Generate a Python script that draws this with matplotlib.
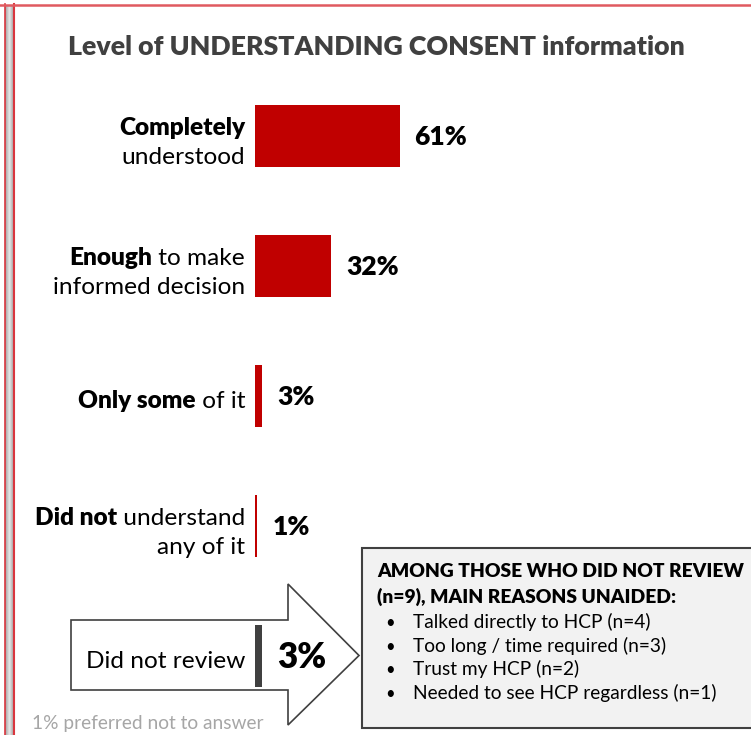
import matplotlib
matplotlib.use("Agg")
import matplotlib.pyplot as plt
import numpy as np
from matplotlib.patches import Polygon, Rectangle

plt.rcParams["font.family"] = ["Lato", "DejaVu Sans"]

# rows: (bold part, regular part on same line, second line)
label_bold = ["Completely", "Enough", "Only some", "Did not", ""]
label_rest = ["", " to make", " of it", " understand", "Did not review"]
label_line2 = ["understood", "informed decision", "", "any of it", ""]
shares = [61, 32, 3, 1, 3]
bar_colors = ["#C00000", "#C00000", "#C00000", "#C00000", "#404040"]

title = "Level of UNDERSTANDING CONSENT information"
box_heading = ["AMONG THOSE WHO DID NOT REVIEW", "(n=9), MAIN REASONS UNAIDED:"]
reasons = [
    "Talked directly to HCP (n=4)",
    "Too long / time required (n=3)",
    "Trust my HCP (n=2)",
    "Needed to see HCP regardless (n=1)",
]
footnote = "1% preferred not to answer"

W, H = 751, 735
fig = plt.figure(figsize=(W / 100, H / 100), dpi=100)

# pixel-space canvas for frame, arrow, text box and labels
bg = fig.add_axes([0, 0, 1, 1], zorder=0)
bg.set_xlim(0, W)
bg.set_ylim(H, 0)
bg.axis("off")

# frame: grey gutter on the left plus thin red rules
grad = np.linspace(0.62, 0.90, 16).reshape(1, -1)
grad = np.concatenate([grad, grad[:, ::-1]], axis=1)
bg.imshow(grad, cmap="gray", vmin=0, vmax=1, extent=(5, 13.5, H, 5), aspect="auto")
bg.plot([4.5, 4.5], [4, H], color="#d9363e", lw=1.2)
bg.plot([14, 14], [4, H], color="#d9363e", lw=1.5)
bg.plot([0, W], [4.5, 4.5], color="#e05a60", lw=1.8)

bg.text(376, 47, title, ha="center", va="center", fontsize=19.3,
        fontweight="heavy", color="#404040")

# block arrow behind the "did not review" row
arrow = [(71, 620), (288, 620), (288, 584), (359, 655.5),
         (288, 725), (288, 690), (71, 690)]
bg.add_patch(Polygon(arrow, closed=True, facecolor="white",
                     edgecolor="#404040", lw=1.2))

# reasons box
bg.add_patch(Rectangle((362, 548), 400, 180, facecolor="#f2f2f2",
                       edgecolor="#404040", lw=1.5))
for k, line in enumerate(box_heading):
    bg.text(377, 577 + 26 * k, line, ha="left", va="baseline",
            fontsize=13.9, fontweight="heavy", color="black")
for k, line in enumerate(reasons):
    y = 628 + 23.7 * k
    bg.text(390, y, "\u2022", ha="center", va="baseline", fontsize=12)
    bg.text(413, y, line, ha="left", va="baseline", fontsize=13.8)

bg.text(32, 729, footnote, ha="left", va="baseline", fontsize=13.8,
        color="#a6a6a6")

# bar axes: 0..100 % mapped onto 237 px starting at x=255
top_px, bot_px = 71, 721
ax = fig.add_axes([255 / W, (H - bot_px) / H, 237 / W, (bot_px - top_px) / H],
                  zorder=1)
ax.patch.set_alpha(0)
rows = np.arange(len(shares))
ax.barh(rows, shares, height=62 / 130, color=bar_colors)
ax.set_xlim(0, 100)
ax.set_ylim(len(shares) - 0.5, -0.5)
ax.axis("off")

fig.canvas.draw()
renderer = fig.canvas.get_renderer()


def row_center_px(i):
    return H - ax.transData.transform((0, i))[1]


def bar_end_px(v):
    return ax.transData.transform((v, 0))[0]


label_x = 245
fs = 17.6
for i, v in enumerate(shares):
    yc = row_center_px(i)
    two_lines = bool(label_line2[i])
    y1 = yc - 1 if two_lines else yc + 12
    # regular tail first, then bold head placed to its left
    x = label_x
    if label_rest[i]:
        t = bg.text(x, y1, label_rest[i], ha="right", va="baseline",
                    fontsize=fs, color="black")
        x = t.get_window_extent(renderer).x0
    if label_bold[i]:
        bg.text(x, y1, label_bold[i], ha="right", va="baseline",
                fontsize=fs, fontweight="heavy", color="black")
    if two_lines:
        bg.text(label_x, y1 + 29, label_line2[i], ha="right", va="baseline",
                fontsize=fs, color="black")

    big = i == len(shares) - 1
    bg.text(bar_end_px(v) + 15, yc + (12 if big else 9), f"{v}%",
            ha="left", va="baseline", fontsize=25 if big else 19,
            fontweight="heavy", color="black")

fig.savefig("out.png", dpi=100)
